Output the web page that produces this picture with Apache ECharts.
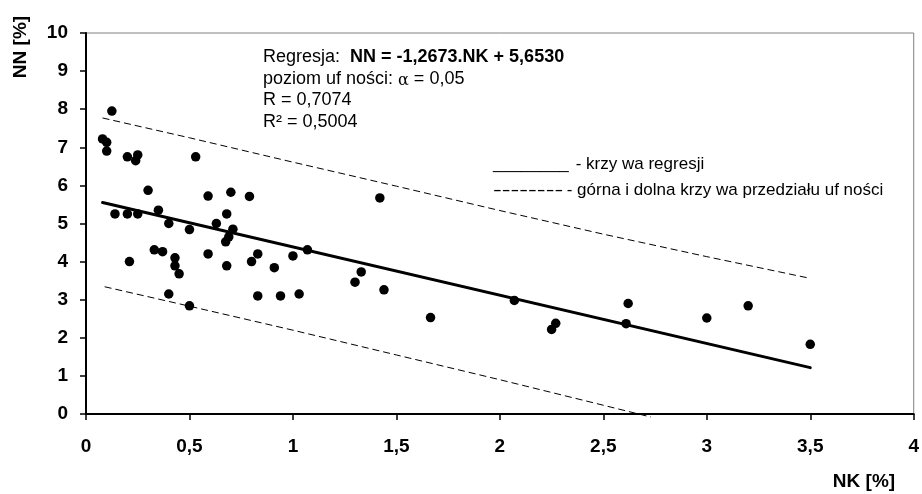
<!DOCTYPE html>
<html>
<head>
<meta charset="utf-8">
<script src="https://cdn.jsdelivr.net/npm/echarts@6/dist/echarts.min.js"></script>
<style>
  html, body { margin: 0; padding: 0; background: #fff; }
  #chart { width: 922px; height: 494px; }
</style>
</head>
<body>
<div id="chart"></div>
<script>
// NK [%] and NN [%] of the individual samples
const nk = [0.08, 0.10, 0.10, 0.125, 0.14, 0.20, 0.20, 0.21, 0.24, 0.25,
            0.25, 0.30, 0.33, 0.35, 0.37, 0.40, 0.40, 0.43, 0.43, 0.45,
            0.50, 0.50, 0.53, 0.59, 0.59, 0.63, 0.675, 0.68, 0.68, 0.69,
            0.70, 0.71, 0.79, 0.80, 0.83, 0.83, 0.91, 0.94, 1.00, 1.03,
            1.07, 1.30, 1.33, 1.42, 1.44, 1.665, 2.07, 2.25, 2.27, 2.61,
            2.62, 3.00, 3.20, 3.50];
const nn = [7.22, 7.13, 6.90, 7.95, 5.25, 6.75, 5.25, 4.00, 6.65, 6.80,
            5.25, 5.87, 4.31, 5.35, 4.26, 5.00, 3.15, 4.10, 3.89, 3.68,
            4.84, 2.84, 6.75, 5.72, 4.20, 5.00, 4.52, 5.25, 3.89, 4.65,
            5.82, 4.85, 5.71, 4.00, 4.20, 3.10, 3.84, 3.10, 4.15, 3.15,
            4.31, 3.46, 3.73, 5.67, 3.26, 2.53, 2.98, 2.22, 2.38, 2.37,
            2.90, 2.52, 2.84, 1.83];

// Regression NN = a * NK + b and its statistics
const regSlope = -1.2673;
const regIntercept = 5.6530;
const alphaLevel = 0.05;
const rValue = 0.7074;
const r2Value = 0.5004;

// Upper and lower confidence curves
const upperX = [0.08, 0.5, 1.0, 1.5, 2.0, 2.5, 3.0, 3.5];
const upperY = [7.77, 7.25, 6.61, 5.98, 5.34, 4.72, 4.13, 3.56];
const lowerX = [0.09, 0.5, 1.0, 1.5, 2.0, 2.5, 2.73];
const lowerY = [3.34, 2.83, 2.20, 1.55, 0.90, 0.23, -0.08];

// Axis ticks
const xTicks = { min: 0, max: 4, step: 0.5 };
const yTicks = { min: 0, max: 10, step: 1 };

const pl = v => String(v).replace('.', ',');
const fmt = (v, d) => v.toFixed(d).replace('.', ',');

const pts = nk.map((x, i) => [x, nn[i]]);
const xMin = Math.min(...nk), xMax = Math.max(...nk);
const regLine = [xMin, xMax].map(x => [x, regSlope * x + regIntercept]);
const upper = upperX.map((x, i) => [x, upperY[i]]);
const lower = lowerX.map((x, i) => [x, lowerY[i]]);

const FONT = '"Liberation Sans", Arial, sans-serif';
const tickFont = { color: '#000', fontFamily: FONT, fontWeight: 'bold', fontSize: 19 };

const eqText = 'NN = ' + fmt(regSlope, 4) + '.NK + ' + fmt(regIntercept, 4);

const chart = echarts.init(document.getElementById('chart'), null, { renderer: 'canvas' });
chart.setOption({
  animation: false,
  backgroundColor: '#fff',
  grid: { left: 86, right: 6, top: 33, bottom: 80, show: true, borderColor: '#808080', borderWidth: 1 },
  xAxis: {
    type: 'value', min: xTicks.min, max: xTicks.max, interval: xTicks.step,
    axisLine: { show: true, lineStyle: { color: '#000', width: 2 } },
    axisTick: { show: true, length: 6, lineStyle: { color: '#000', width: 1.5 } },
    splitLine: { show: false },
    axisLabel: Object.assign({ margin: 23, formatter: v => pl(v) }, tickFont)
  },
  yAxis: {
    type: 'value', min: yTicks.min, max: yTicks.max, interval: yTicks.step,
    axisLine: { show: true, lineStyle: { color: '#000', width: 2 } },
    axisTick: { show: true, length: 6, lineStyle: { color: '#000', width: 1.5 } },
    splitLine: { show: false },
    axisLabel: Object.assign({ margin: 18, formatter: v => pl(v) }, tickFont)
  },
  series: [
    {
      type: 'line', data: upper, showSymbol: false, silent: true,
      lineStyle: { color: '#000', width: 1, type: [7, 4] }
    },
    {
      type: 'line', data: lower, showSymbol: false, silent: true, clip: false,
      lineStyle: { color: '#000', width: 1, type: [7, 4] }
    },
    {
      type: 'line', data: regLine, showSymbol: false, silent: true,
      lineStyle: { color: '#000', width: 3, cap: 'round' }
    },
    {
      type: 'scatter', data: pts, symbol: 'circle', symbolSize: 9.5,
      itemStyle: { color: '#000', opacity: 1 }, z: 5
    }
  ],
  graphic: [
    {
      type: 'text', x: 21, y: 47, rotation: Math.PI / 2,
      style: { text: 'NN [%]', font: 'bold 19px ' + FONT, fill: '#000', align: 'center', verticalAlign: 'middle' }
    },
    {
      type: 'text', x: 864, y: 482,
      style: { text: 'NK [%]', font: 'bold 19px ' + FONT, fill: '#000', align: 'center', verticalAlign: 'middle' }
    },
    {
      type: 'text', x: 263, y: 57,
      style: {
        text: '{n|Regresja:  }{b|' + eqText + '}', fill: '#000', verticalAlign: 'middle',
        rich: {
          n: { fontFamily: FONT, fontSize: 18, fill: '#000' },
          b: { fontFamily: FONT, fontSize: 18, fontWeight: 'bold', fill: '#000' }
        }
      }
    },
    {
      type: 'text', x: 263, y: 79,
      style: {
        text: '{n|poziom uf ności: }{a|α}{n| = ' + fmt(alphaLevel, 2) + '}', fill: '#000', verticalAlign: 'middle',
        rich: {
          n: { fontFamily: FONT, fontSize: 18, fill: '#000' },
          a: { fontFamily: '"DejaVu Serif", serif', fontSize: 16, fill: '#000', padding: [4, 0, 0, 0] }
        }
      }
    },
    {
      type: 'text', x: 263, y: 100.5,
      style: { text: 'R = ' + fmt(rValue, 4), font: '18px ' + FONT, fill: '#000', verticalAlign: 'middle' }
    },
    {
      type: 'text', x: 263, y: 122,
      style: { text: 'R² = ' + fmt(r2Value, 4), font: '18px ' + FONT, fill: '#000', verticalAlign: 'middle' }
    },
    {
      type: 'text', x: 493, y: 164,
      style: { text: '________', font: '17px ' + FONT, fill: '#000', verticalAlign: 'middle' }
    },
    {
      type: 'text', x: 571, y: 164,
      style: { text: ' - krzy wa regresji', font: '17px ' + FONT, fill: '#000', verticalAlign: 'middle' }
    },
    {
      type: 'text', x: 493, y: 190, scaleX: 1.55,
      style: { text: '--------', font: '17px ' + FONT, fill: '#000', verticalAlign: 'middle' }
    },
    {
      type: 'text', x: 562, y: 190,
      style: { text: ' - górna i dolna krzy wa przedziału uf ności', font: '17px ' + FONT, fill: '#000', verticalAlign: 'middle' }
    }
  ]
});
</script>
</body>
</html>
